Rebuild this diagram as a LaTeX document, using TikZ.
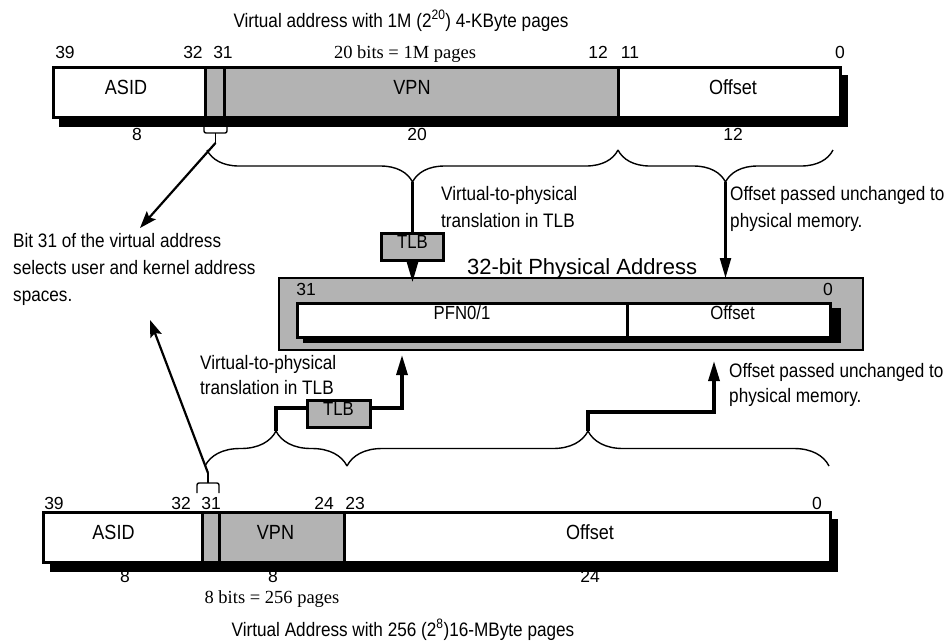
\documentclass[tikz,border=0pt]{standalone}
\usepackage{fontspec}
\newfontfamily\condfont{Liberation Sans}[FakeStretch=0.88]
\newfontfamily\plainfont{Liberation Sans}
\newfontfamily\serifont{Liberation Serif}
\usetikzlibrary{positioning,arrows.meta,decorations.pathreplacing}
\definecolor{fieldgray}{RGB}{179,179,179}
\tikzset{
  field/.style={draw,line width=3pt,outer sep=0pt,inner sep=0pt,minimum height=50pt,
    text height=14pt,text depth=10pt,font=\condfont\fontsize{20.5}{24}\selectfont},
  pfield/.style={field,fill=white,minimum height=34pt,text height=13pt,text depth=15pt,
    font=\condfont\fontsize{19}{22}\selectfont},
  bitnum/.style={inner sep=0pt,anchor=base,font=\plainfont\fontsize{17.5}{20}\selectfont},
  bitsize/.style={inner sep=0pt,anchor=base,font=\serifont\fontsize{18.5}{22}\selectfont},
  caption/.style={inner sep=0pt,anchor=base,font=\condfont\fontsize{19.5}{24}\selectfont},
  note/.style={inner sep=0pt,anchor=north west,align=left,font=\condfont\fontsize{19.5}{#1}\selectfont},
  note/.default=27,
  tlbbox/.style={draw,line width=3pt,fill=fieldgray,outer sep=0pt,inner sep=0pt,
    minimum width=62pt,minimum height=27pt,text height=13pt,text depth=10pt,
    font=\condfont\fontsize{19}{22}\selectfont},
  curly/.style={decorate,decoration={brace,amplitude=#1},line width=1.4pt},
  link/.style={line width=2.2pt},
  heavy/.style={line width=3.2pt},
}
\begin{document}
\begin{tikzpicture}[x=1pt,y=-1pt,>={Triangle[length=20pt,width=11pt]}]
\useasboundingbox (0,0) rectangle (950,641);
% virtual address, 4-KByte pages
\node[caption] (titleA) at (401,27) {Virtual address with 1M (2\textsuperscript{20}) 4-KByte pages};
\node[bitsize] (pagesA) at (405,58) {20 bits = 1M pages};
\foreach \x/\n [count=\i] in {65/39,193/32,223/31,598/12,630/11,840/0}
  \node[bitnum] (topA\i) at (\x,58) {\n};
\foreach \x/\n [count=\i] in {137/8,417/20,733/12}
  \node[bitnum] (lenA\i) at (\x,140) {\n};
\fill (59,75) rectangle (848,127);
\node[field,fill=white,minimum width=152pt,anchor=north west] (asidA) at (53,67) {ASID\hspace*{6pt}};
\node[field,fill=fieldgray,minimum width=19pt,right=0pt of asidA] (selA) {};
\node[field,fill=fieldgray,minimum width=394pt,right=0pt of selA] (vpnA) {VPN\hspace*{18pt}};
\node[field,fill=white,minimum width=222pt,right=0pt of vpnA] (offA) {\hspace*{8pt}Offset};
\draw[line width=1.4pt,rounded corners=2pt] (204,127) |- (227,133) -- (227,127);
\coordinate (stemA) at (215.5,143);
\draw[line width=1.4pt] (215.5,133) -- (stemA);
\draw[curly=32,decoration={mirror}] (207,150) -- (618,150);
\draw[curly=32,decoration={mirror}] (618,150) -- (833,150);
\coordinate (vpnTipA) at (412.5,182);
\coordinate (offTipA) at (725.5,182);
\node[note] (xlatA) at (441,186) {Virtual-to-physical\\translation in TLB};
\node[note] (passA) at (730,186) {Offset passed unchanged to\\physical memory.};
\node[note] (selNote) at (13,233) {Bit 31 of the virtual address\\selects user and kernel address\\spaces.};
\node[tlbbox] (tlbA) at (412.5,246.5) {TLB};

% physical address
\node[inner sep=0pt,anchor=base west,font=\plainfont\fontsize{22}{26}\selectfont] (physTitle) at (467,274) {32-bit Physical Address};
\node[draw,line width=1.8pt,fill=fieldgray,outer sep=0pt,minimum width=584pt,minimum height=72pt,anchor=north west] (phys) at (279,278) {};
\node[bitnum] (physHi) at (306,295) {31};
\node[bitnum] (physLo) at (828,295) {0};
\fill (303,308) rectangle (841,343);
\node[pfield,minimum width=330pt,anchor=north west] (pfn) at (297,303) {PFN0/1};
\node[pfield,minimum width=203pt,right=0pt of pfn] (offP) {\hspace*{8pt}Offset};

\draw[link] (vpnTipA) -- (tlbA.north);
\draw[link,->,shorten >=-4pt] (tlbA.south) -- (tlbA.south |- phys.north);
\draw[link,->] (offTipA) -- (offTipA |- phys.north);
\coordinate (noteTop) at (140,228);
\draw[link,-{Stealth[length=17pt,width=12pt,inset=3pt]}] (stemA) -- (noteTop);

% virtual address, 16-MByte pages
\node[note=25] (xlatB) at (200,355) {Virtual-to-physical\\translation in TLB};
\node[note=25] (passB) at (729,363) {Offset passed unchanged to\\physical memory.};
\node[tlbbox,minimum width=63pt] (tlbB) at (338.5,413.5) {TLB};
\coordinate (pfnIn) at (402,355);
\coordinate (offIn) at (714,361);
\coordinate (vpnTipB) at (276,431);
\coordinate (offTipB) at (588,431);
\draw[curly=35] (205,466) -- (347,466);
\draw[curly=35] (347,466) -- (829,466);
\draw[heavy] (vpnTipB) |- ([yshift=5.5pt]tlbB.west);
\draw[heavy,->] ([yshift=5.5pt]tlbB.east) -| (pfnIn);
\draw[heavy,->] (offTipB) -- ++(0,-19) -| (offIn);
\coordinate (stemB) at (208,473);
\coordinate (noteBot) at (150,320);
\draw[line width=1.4pt,rounded corners=2pt] (197,493) |- (219,483) -- (219,493);
\draw[line width=1.4pt] (208,483) -- (stemB);
\draw[link,-{Stealth[length=17pt,width=12pt,inset=3pt]}] (stemB) -- (noteBot);

\foreach \x/\n [count=\i] in {54/39,181/32,211/31,324/24,355/23,817/0}
  \node[bitnum] (topB\i) at (\x,509) {\n};
\foreach \x/\n [count=\i] in {125/8,273/8,590/24}
  \node[bitnum] (lenB\i) at (\x,582) {\n};
\fill (50,519) rectangle (838,572);
\node[field,fill=white,minimum width=159pt,anchor=north west] (asidB) at (43,512) {ASID\hspace*{18pt}};
\node[field,fill=fieldgray,minimum width=17pt,right=0pt of asidB] (selB) {};
\node[field,fill=fieldgray,minimum width=125pt,right=0pt of selB] (vpnB) {VPN\hspace*{12pt}};
\node[field,fill=white,minimum width=486pt,right=0pt of vpnB] (offB) {\hspace*{6pt}Offset};
\node[bitsize] (pagesB) at (272,603) {8 bits = 256 pages};
\node[caption] (titleB) at (403,636) {Virtual Address with 256 (2\textsuperscript{8})16-MByte pages};
\end{tikzpicture}
\end{document}
